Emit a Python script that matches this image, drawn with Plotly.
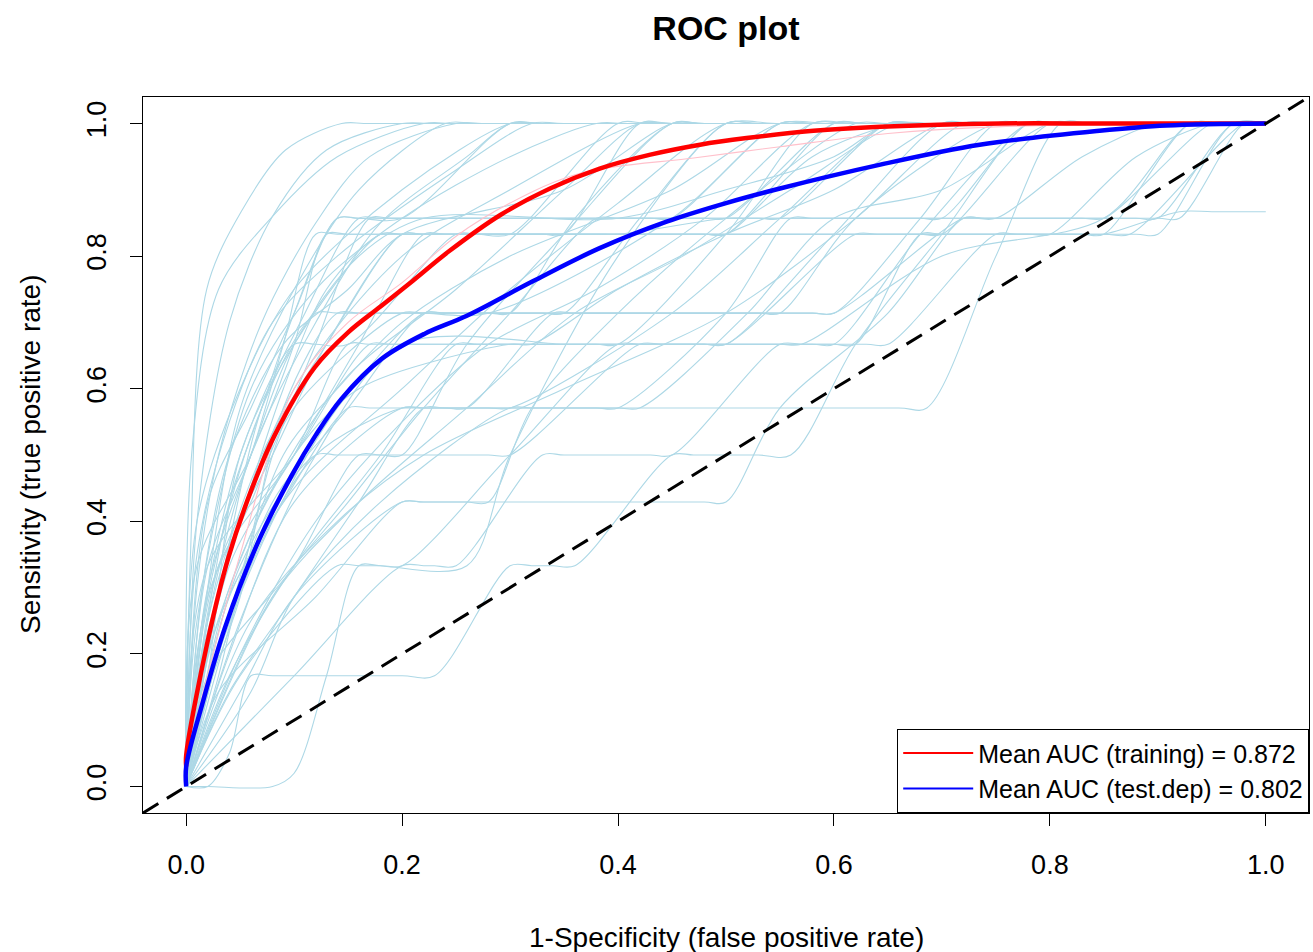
import plotly.graph_objects as go

# ---------------- data ----------------
AXIS_RANGE = [-0.04, 1.04]
tick_vals = [0.0, 0.2, 0.4, 0.6, 0.8, 1.0]
tick_text = ["0.0", "0.2", "0.4", "0.6", "0.8", "1.0"]

# mean ROC curves
mean_train_fpr = [0.0, 0.0, 0.02, 0.039, 0.061, 0.082, 0.119, 0.15, 0.18, 0.21, 0.244, 0.291,
                  0.337, 0.383, 0.43, 0.476, 0.519, 0.581, 0.643, 0.754, 0.85, 1.0]
mean_train_tpr = [0.03, 0.047, 0.22, 0.345, 0.45, 0.53, 0.632, 0.685, 0.724, 0.763, 0.808, 0.862,
                  0.902, 0.932, 0.953, 0.968, 0.978, 0.989, 0.995, 1.0, 1.0, 1.0]
mean_test_fpr = [0.0, 0.0, 0.015, 0.036, 0.067, 0.098, 0.12, 0.144, 0.181, 0.221, 0.26, 0.321,
                 0.383, 0.445, 0.5, 0.55, 0.643, 0.735, 0.846, 0.908, 1.0]
mean_test_tpr = [0.0, 0.03, 0.125, 0.24, 0.37, 0.47, 0.53, 0.585, 0.645, 0.683, 0.71, 0.762,
                 0.812, 0.852, 0.88, 0.902, 0.938, 0.968, 0.989, 0.997, 1.0]

# faint individual training curve (pink)
train_run_fpr = [0.0, 0.05, 0.1, 0.15, 0.2, 0.25, 0.3, 0.365, 0.47, 0.55, 0.65, 0.75, 1.0]
train_run_tpr = [0.04, 0.35, 0.6, 0.7, 0.76, 0.83, 0.88, 0.925, 0.948, 0.965, 0.985, 0.995, 1.0]

# individual test-set ROC curves (light blue)
run01_fpr = [0, 0.004, 0.019, 0.052, 0.092, 0.144, 0.17, 1.0]
run01_tpr = [0, 0.35, 0.75, 0.87, 0.96, 1.0, 1.0, 1.0]
run02_fpr = [0, 0.01, 0.04, 0.08, 0.13, 0.2, 0.23, 1.0]
run02_tpr = [0, 0.4, 0.7, 0.86, 0.96, 1.0, 1.0, 1.0]
run03_fpr = [0, 0.02, 0.05, 0.1, 0.16, 0.24, 0.27, 1.0]
run03_tpr = [0, 0.3, 0.57, 0.75, 0.9, 1.0, 1.0, 1.0]
run04_fpr = [0, 0.01, 0.04, 0.07, 0.1, 0.14, 0.16, 0.2, 0.3, 0.33, 1.0]
run04_tpr = [0, 0.143, 0.429, 0.571, 0.714, 0.857, 0.857, 0.857, 1.0, 1.0, 1.0]
run05_fpr = [0, 0.02, 0.06, 0.09, 0.12, 0.14, 0.48, 0.5, 0.6, 0.63, 1.0]
run05_tpr = [0, 0.333, 0.5, 0.667, 0.833, 0.833, 0.833, 0.833, 1.0, 1.0, 1.0]
run06_fpr = [0, 0.03, 0.07, 0.11, 0.16, 0.18, 0.53, 0.55, 0.65, 0.68, 1.0]
run06_tpr = [0, 0.286, 0.571, 0.714, 0.857, 0.857, 0.857, 0.857, 1.0, 1.0, 1.0]
run07_fpr = [0, 0.03, 0.08, 0.13, 0.2, 0.22, 0.85, 0.874, 0.98, 1.0]
run07_tpr = [0, 0.333, 0.5, 0.667, 0.833, 0.833, 0.833, 0.833, 1.0, 1.0]
run08_fpr = [0, 0.02, 0.05, 0.1, 0.18, 0.2, 0.83, 0.85, 0.92, 0.95, 1.0]
run08_tpr = [0, 0.167, 0.5, 0.667, 0.833, 0.833, 0.833, 0.833, 0.867, 0.867, 0.867]
run09_fpr = [0, 0.04, 0.1, 0.16, 0.22, 0.24, 0.66, 0.686, 0.75, 0.81, 0.84, 1.0]
run09_tpr = [0, 0.143, 0.286, 0.429, 0.571, 0.571, 0.571, 0.571, 0.8, 1.0, 1.0, 1.0]
run10_fpr = [0, 0.02, 0.04, 0.06, 0.08, 0.2, 0.23, 0.3, 0.32, 0.34, 0.36, 0.45, 0.47, 0.53, 0.56,
             0.62, 0.7, 0.78, 0.81, 1.0]
run10_tpr = [0, 0.0, 0.05, 0.167, 0.167, 0.167, 0.167, 0.333, 0.333, 0.333, 0.333, 0.5, 0.5, 0.5, 0.5,
             0.667, 0.833, 1.0, 1.0, 1.0]
run11_fpr = [0, 0.01, 0.05, 0.1, 0.12, 0.15, 0.25, 0.27, 0.3, 0.4, 0.43, 1.0]
run11_tpr = [0, 0.2, 0.5, 0.667, 0.667, 0.667, 0.833, 0.833, 0.833, 1.0, 1.0, 1.0]
run12_fpr = [0, 0.02, 0.06, 0.1, 0.2, 0.22, 0.28, 0.45, 0.55, 0.58, 1.0]
run12_tpr = [0, 0.286, 0.429, 0.571, 0.714, 0.714, 0.714, 0.857, 1.0, 1.0, 1.0]
run13_fpr = [0, 0.02, 0.07, 0.12, 0.14, 0.58, 0.6, 0.68, 0.75, 0.78, 1.0]
run13_tpr = [0, 0.286, 0.571, 0.714, 0.714, 0.714, 0.714, 0.857, 1.0, 1.0, 1.0]
run14_fpr = [0, 0.03, 0.1, 0.15, 0.17, 0.58, 0.6, 0.68, 0.78, 0.81, 1.0]
run14_tpr = [0, 0.333, 0.5, 0.667, 0.667, 0.667, 0.667, 0.833, 1.0, 1.0, 1.0]
run15_fpr = [0, 0.05, 0.12, 0.14, 0.18, 0.2, 0.26, 0.35, 0.45, 0.48, 1.0]
run15_tpr = [0, 0.333, 0.5, 0.5, 0.5, 0.5, 0.667, 0.833, 1.0, 1.0, 1.0]
run16_fpr = [0, 0.005, 0.03, 0.08, 0.14, 0.22, 0.25, 1.0]
run16_tpr = [0, 0.5, 0.75, 0.86, 0.95, 1.0, 1.0, 1.0]
run17_fpr = [0, 0.01, 0.06, 0.12, 0.2, 0.3, 0.38, 0.41, 1.0]
run17_tpr = [0, 0.25, 0.6, 0.75, 0.857, 0.95, 1.0, 1.0, 1.0]
run18_fpr = [0, 0.03, 0.08, 0.14, 0.22, 0.24, 0.33, 0.35, 0.42, 0.5, 0.53, 1.0]
run18_tpr = [0, 0.2, 0.4, 0.571, 0.714, 0.714, 0.714, 0.714, 0.857, 1.0, 1.0, 1.0]
run19_fpr = [0, 0.04, 0.1, 0.18, 0.25, 0.27, 0.38, 0.4, 0.5, 0.58, 0.61, 1.0]
run19_tpr = [0, 0.167, 0.333, 0.5, 0.667, 0.667, 0.667, 0.667, 0.833, 1.0, 1.0, 1.0]
run20_fpr = [0, 0.02, 0.05, 0.09, 0.14, 0.16, 0.28, 0.3, 0.36, 0.45, 0.48, 1.0]
run20_tpr = [0, 0.143, 0.286, 0.571, 0.714, 0.714, 0.714, 0.714, 0.857, 1.0, 1.0, 1.0]
run21_fpr = [0, 0.06, 0.12, 0.2, 0.22, 0.28, 0.3, 0.45, 0.55, 0.65, 0.68, 1.0]
run21_tpr = [0, 0.333, 0.5, 0.571, 0.571, 0.571, 0.571, 0.714, 0.857, 1.0, 1.0, 1.0]
run22_fpr = [0, 0.02, 0.06, 0.1, 0.14, 0.16, 0.73, 0.75, 0.83, 0.9, 0.93, 1.0]
run22_tpr = [0, 0.429, 0.571, 0.714, 0.857, 0.857, 0.857, 0.857, 0.95, 1.0, 1.0, 1.0]
run23_fpr = [0, 0.04, 0.1, 0.16, 0.22, 0.24, 0.78, 0.8, 0.88, 0.95, 0.97, 1.0]
run23_tpr = [0, 0.333, 0.5, 0.667, 0.833, 0.833, 0.833, 0.833, 0.95, 1.0, 1.0, 1.0]
run24_fpr = [0, 0.03, 0.08, 0.12, 0.17, 0.19, 0.43, 0.45, 0.55, 0.58, 1.0]
run24_tpr = [0, 0.167, 0.5, 0.667, 0.857, 0.857, 0.857, 0.857, 1.0, 1.0, 1.0]
run25_fpr = [0, 0.05, 0.1, 0.2, 0.22, 0.26, 0.28, 0.32, 0.4, 0.5, 0.62, 0.65, 1.0]
run25_tpr = [0, 0.143, 0.286, 0.429, 0.429, 0.429, 0.429, 0.571, 0.714, 0.857, 1.0, 1.0, 1.0]
run26_fpr = [0, 0.02, 0.1, 0.16, 0.18, 0.28, 0.3, 0.42, 0.44, 0.48, 0.5, 0.6, 0.7, 0.73, 1.0]
run26_tpr = [0, 0.167, 0.333, 0.5, 0.5, 0.5, 0.5, 0.667, 0.667, 0.667, 0.667, 0.833, 1.0, 1.0, 1.0]
run27_fpr = [0, 0.03, 0.08, 0.15, 0.22, 0.24, 0.58, 0.6, 0.72, 0.74, 0.83, 0.85, 0.95, 0.97, 1.0]
run27_tpr = [0, 0.2, 0.429, 0.571, 0.714, 0.714, 0.714, 0.714, 0.857, 0.857, 0.857, 0.857, 1.0, 1.0, 1.0]
run28_fpr = [0, 0.01, 0.03, 0.07, 0.12, 0.17, 0.25, 0.28, 1.0]
run28_tpr = [0, 0.3, 0.5, 0.7, 0.85, 0.95, 1.0, 1.0, 1.0]
run29_fpr = [0, 0.08, 0.15, 0.22, 0.3, 0.38, 0.4, 0.48, 0.5, 0.6, 0.63, 1.0]
run29_tpr = [0, 0.286, 0.429, 0.571, 0.714, 0.857, 0.857, 0.857, 0.857, 1.0, 1.0, 1.0]
run30_fpr = [0, 0.02, 0.1, 0.17, 0.19, 0.63, 0.65, 0.75, 0.77, 0.83, 0.85, 0.93, 0.96, 1.0]
run30_tpr = [0, 0.333, 0.5, 0.667, 0.667, 0.667, 0.667, 0.833, 0.833, 0.833, 0.833, 1.0, 1.0, 1.0]
run31_fpr = [0, 0.03, 0.12, 0.2, 0.22, 0.48, 0.5, 0.55, 0.65, 0.72, 0.74, 0.88, 0.9, 0.97, 1.0]
run31_tpr = [0, 0.143, 0.286, 0.429, 0.429, 0.429, 0.429, 0.571, 0.714, 0.857, 0.857, 0.857, 0.857,
             1.0, 1.0]
run32_fpr = [0, 0.015, 0.05, 0.09, 0.13, 0.18, 0.2, 0.33, 0.35, 0.42, 0.45, 1.0]
run32_tpr = [0, 0.2, 0.4, 0.6, 0.75, 0.833, 0.833, 0.833, 0.833, 1.0, 1.0, 1.0]
run33_fpr = [0, 0.05, 0.14, 0.16, 0.18, 0.2, 0.3, 0.4, 0.42, 0.48, 0.5, 0.62, 0.64, 0.68, 0.7,
             0.8, 0.83, 1.0]
run33_tpr = [0, 0.167, 0.333, 0.333, 0.333, 0.333, 0.5, 0.667, 0.667, 0.667, 0.667, 0.833, 0.833,
             0.833, 0.833, 1.0, 1.0, 1.0]
run34_fpr = [0, 0.01, 0.04, 0.08, 0.14, 0.25, 0.32, 0.35, 1.0]
run34_tpr = [0, 0.35, 0.55, 0.7, 0.8, 0.93, 1.0, 1.0, 1.0]
run35_fpr = [0, 0.02, 0.07, 0.13, 0.2, 0.22, 0.48, 0.5, 0.58, 0.66, 0.69, 1.0]
run35_tpr = [0, 0.25, 0.5, 0.667, 0.833, 0.833, 0.833, 0.833, 0.95, 1.0, 1.0, 1.0]
run36_fpr = [0, 0.04, 0.09, 0.15, 0.17, 0.24, 0.26, 0.34, 0.36, 0.53, 0.55, 0.62, 0.75, 0.78, 1.0]
run36_tpr = [0, 0.286, 0.429, 0.571, 0.571, 0.571, 0.571, 0.714, 0.714, 0.714, 0.714, 0.857, 1.0,
             1.0, 1.0]
run37_fpr = [0, 0.06, 0.1, 0.18, 0.3, 0.32, 0.38, 0.4, 0.5, 0.56, 0.58, 0.68, 0.7, 0.78, 0.81, 1.0]
run37_tpr = [0, 0.143, 0.286, 0.429, 0.571, 0.571, 0.571, 0.571, 0.714, 0.857, 0.857, 0.857, 0.857,
             1.0, 1.0, 1.0]
run38_fpr = [0, 0.01, 0.06, 0.1, 0.13, 0.15, 0.38, 0.4, 0.5, 0.52, 0.9, 0.92, 0.98, 1.0]
run38_tpr = [0, 0.333, 0.5, 0.667, 0.833, 0.833, 0.833, 0.833, 0.857, 0.857, 0.857, 0.857, 1.0, 1.0]
run39_fpr = [0, 0.02, 0.04, 0.1, 0.2, 0.3, 0.42, 0.45, 1.0]
run39_tpr = [0, 0.2, 0.35, 0.6, 0.8, 0.9, 1.0, 1.0, 1.0]
run40_fpr = [0, 0.1, 0.2, 0.22, 0.23, 0.25, 0.33, 0.35, 0.43, 0.45, 0.55, 0.57, 0.6, 0.62, 0.68,
             0.7, 0.88, 0.9, 0.97, 1.0]
run40_tpr = [0, 0.167, 0.333, 0.333, 0.333, 0.333, 0.5, 0.5, 0.5, 0.5, 0.667, 0.667, 0.667, 0.667,
             0.833, 0.833, 0.833, 0.833, 1.0, 1.0]
run41_fpr = [0, 0.02, 0.08, 0.1, 0.13, 0.16, 0.18, 0.26, 0.3, 0.4, 0.5, 0.53, 1.0]
run41_tpr = [0, 0.0, 0.0, 0.02, 0.167, 0.333, 0.333, 0.333, 0.5, 0.8, 1.0, 1.0, 1.0]
run42_fpr = [0, 0.02, 0.08, 0.15, 0.25, 0.35, 0.42, 0.45, 1.0]
run42_tpr = [0, 0.2, 0.45, 0.62, 0.75, 0.9, 1.0, 1.0, 1.0]
run43_fpr = [0, 0.03, 0.1, 0.2, 0.3, 0.4, 0.5, 0.55, 1.0]
run43_tpr = [0, 0.25, 0.45, 0.6, 0.75, 0.88, 1.0, 1.0, 1.0]
run44_fpr = [0, 0.05, 0.12, 0.2, 0.28, 0.38, 0.48, 0.58, 0.62, 1.0]
run44_tpr = [0, 0.2, 0.4, 0.55, 0.667, 0.75, 0.857, 1.0, 1.0, 1.0]
run45_fpr = [0, 0.01, 0.05, 0.1, 0.2, 0.3, 0.33, 1.0]
run45_tpr = [0, 0.4, 0.6, 0.75, 0.9, 1.0, 1.0, 1.0]
run46_fpr = [0, 0.04, 0.1, 0.16, 0.3, 0.32, 0.4, 0.5, 0.6, 0.7, 0.73, 1.0]
run46_tpr = [0, 0.3, 0.5, 0.6, 0.667, 0.667, 0.75, 0.833, 0.9, 1.0, 1.0, 1.0]
run47_fpr = [0, 0.02, 0.06, 0.12, 0.18, 0.26, 0.3, 0.33, 1.0]
run47_tpr = [0, 0.25, 0.5, 0.7, 0.85, 0.95, 1.0, 1.0, 1.0]
run48_fpr = [0, 0.03, 0.09, 0.14, 0.2, 0.3, 0.45, 0.55, 0.6, 1.0]
run48_tpr = [0, 0.2, 0.5, 0.6, 0.7, 0.8, 0.9, 1.0, 1.0, 1.0]
run49_fpr = [0, 0.06, 0.14, 0.22, 0.35, 0.5, 0.62, 0.72, 0.75, 1.0]
run49_tpr = [0, 0.25, 0.4, 0.5, 0.6, 0.714, 0.857, 1.0, 1.0, 1.0]
run50_fpr = [0, 0.015, 0.04, 0.09, 0.15, 0.2, 0.35, 0.45, 0.48, 1.0]
run50_tpr = [0, 0.3, 0.5, 0.667, 0.75, 0.833, 0.9, 1.0, 1.0, 1.0]
run51_fpr = [0, 0.08, 0.16, 0.26, 0.36, 0.46, 0.56, 0.66, 0.69, 1.0]
run51_tpr = [0, 0.286, 0.429, 0.571, 0.714, 0.8, 0.9, 1.0, 1.0, 1.0]
run52_fpr = [0, 0.02, 0.06, 0.1, 0.16, 0.22, 0.4, 0.5, 0.6, 0.65, 0.68, 1.0]
run52_tpr = [0, 0.3, 0.5, 0.667, 0.8, 0.857, 0.857, 0.9, 0.95, 1.0, 1.0, 1.0]
run53_fpr = [0, 0.04, 0.1, 0.2, 0.22, 0.4, 0.42, 0.52, 0.6, 0.7, 0.8, 0.83, 1.0]
run53_tpr = [0, 0.2, 0.429, 0.571, 0.571, 0.571, 0.571, 0.714, 0.857, 0.9, 1.0, 1.0, 1.0]
run54_fpr = [0, 0.05, 0.12, 0.2, 0.35, 0.37, 0.55, 0.57, 0.7, 0.85, 0.93, 0.96, 1.0]
run54_tpr = [0, 0.25, 0.5, 0.667, 0.667, 0.667, 0.667, 0.667, 0.8, 0.857, 1.0, 1.0, 1.0]

test_runs = [
    (run01_fpr, run01_tpr), (run02_fpr, run02_tpr), (run03_fpr, run03_tpr), (run04_fpr, run04_tpr),
    (run05_fpr, run05_tpr), (run06_fpr, run06_tpr), (run07_fpr, run07_tpr), (run08_fpr, run08_tpr),
    (run09_fpr, run09_tpr), (run10_fpr, run10_tpr), (run11_fpr, run11_tpr), (run12_fpr, run12_tpr),
    (run13_fpr, run13_tpr), (run14_fpr, run14_tpr), (run15_fpr, run15_tpr), (run16_fpr, run16_tpr),
    (run17_fpr, run17_tpr), (run18_fpr, run18_tpr), (run19_fpr, run19_tpr), (run20_fpr, run20_tpr),
    (run21_fpr, run21_tpr), (run22_fpr, run22_tpr), (run23_fpr, run23_tpr), (run24_fpr, run24_tpr),
    (run25_fpr, run25_tpr), (run26_fpr, run26_tpr), (run27_fpr, run27_tpr), (run28_fpr, run28_tpr),
    (run29_fpr, run29_tpr), (run30_fpr, run30_tpr), (run31_fpr, run31_tpr), (run32_fpr, run32_tpr),
    (run33_fpr, run33_tpr), (run34_fpr, run34_tpr), (run35_fpr, run35_tpr), (run36_fpr, run36_tpr),
    (run37_fpr, run37_tpr), (run38_fpr, run38_tpr), (run39_fpr, run39_tpr), (run40_fpr, run40_tpr),
    (run41_fpr, run41_tpr), (run42_fpr, run42_tpr), (run43_fpr, run43_tpr), (run44_fpr, run44_tpr),
    (run45_fpr, run45_tpr), (run46_fpr, run46_tpr), (run47_fpr, run47_tpr), (run48_fpr, run48_tpr),
    (run49_fpr, run49_tpr), (run50_fpr, run50_tpr), (run51_fpr, run51_tpr), (run52_fpr, run52_tpr),
    (run53_fpr, run53_tpr), (run54_fpr, run54_tpr),
]

legend_labels = ["Mean AUC (training) = 0.872", "Mean AUC (test.dep) = 0.802"]

# ---------------- figure ----------------
FONT = "Liberation Sans, Arial, Helvetica, sans-serif"
fig = go.Figure()

for fx, ty in test_runs:
    fig.add_trace(go.Scatter(x=fx, y=ty, mode="lines", line=dict(color="lightblue", width=1.1,
                             shape="spline", smoothing=0.9), showlegend=False, hoverinfo="skip"))

fig.add_trace(go.Scatter(x=train_run_fpr, y=train_run_tpr, mode="lines",
                         line=dict(color="pink", width=1.1, shape="spline"), showlegend=False))

fig.add_trace(go.Scatter(x=mean_train_fpr, y=mean_train_tpr, mode="lines",
                         line=dict(color="#ff0000", width=4.5, shape="spline"), showlegend=False))
fig.add_trace(go.Scatter(x=mean_test_fpr, y=mean_test_tpr, mode="lines",
                         line=dict(color="#0000ff", width=4.5, shape="spline"), showlegend=False))

# chance diagonal across the whole plotting region
fig.add_trace(go.Scatter(x=AXIS_RANGE, y=AXIS_RANGE, mode="lines",
                         line=dict(color="black", width=3, dash="18px,10px"), showlegend=False))

# legend-only entries with thin lines
fig.add_trace(go.Scatter(x=[None], y=[None], mode="lines", name=legend_labels[0],
                         line=dict(color="#ff0000", width=2)))
fig.add_trace(go.Scatter(x=[None], y=[None], mode="lines", name=legend_labels[1],
                         line=dict(color="#0000ff", width=2)))

axis_common = dict(range=AXIS_RANGE, tickvals=tick_vals, ticktext=tick_text, showgrid=False,
                   zeroline=False, showline=True, mirror=True, linecolor="black", linewidth=1.2,
                   ticks="outside", ticklen=12, tickwidth=1, tickcolor="black",
                   tickfont=dict(family=FONT, size=27, color="black"))

fig.update_layout(
    width=1313, height=952,
    margin=dict(l=143, r=4, t=97, b=139),
    paper_bgcolor="white", plot_bgcolor="white",
    title=dict(text="<b>ROC plot</b>", x=0.5, xref="paper", y=1 - 28 / 952, yanchor="middle",
               font=dict(family=FONT, size=34, color="black")),
    xaxis=dict(**axis_common, ticklabelstandoff=15),
    yaxis=dict(**axis_common, tickangle=-90, ticklabelstandoff=13),
    legend=dict(x=1, xanchor="right", y=0, yanchor="bottom", bgcolor="white",
                bordercolor="black", borderwidth=1.2, itemwidth=70,
                font=dict(family=FONT, size=25, color="black"), tracegroupgap=0),
    annotations=[
        dict(text="1-Specificity (false positive rate)", xref="paper", yref="paper",
             x=0.5, y=(813 - 937) / 716, xanchor="center", yanchor="middle", showarrow=False,
             font=dict(family=FONT, size=28, color="black")),
        dict(text="Sensitivity (true positive rate)", xref="paper", yref="paper",
             x=(30 - 143) / 1166, y=(813 - 455) / 716, xanchor="center", yanchor="middle",
             textangle=-90, showarrow=False, font=dict(family=FONT, size=28, color="black")),
    ],
)

fig.write_html("out.html")
